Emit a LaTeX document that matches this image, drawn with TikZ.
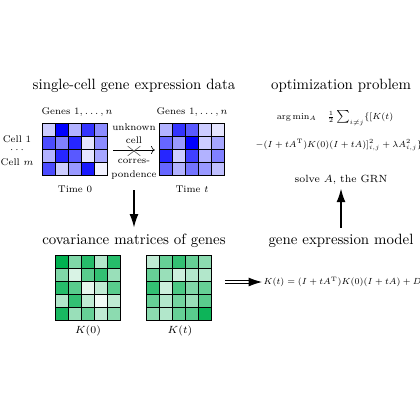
\documentclass[tikz,border=0pt]{standalone}
\usetikzlibrary{arrows.meta,shapes.misc,positioning,calc}

\definecolor{covgreen}{RGB}{0,176,80}

\tikzset{
  heading/.style={font=\normalsize},
  tinylabel/.style={font=\scriptsize, scale=0.93, inner sep=1pt},
  formula/.style={font=\scriptsize, scale=0.85, inner sep=1pt},
  exprbox/.style={inner sep=0pt, minimum width=1.534cm, minimum height=1.227cm},
  covbox/.style={inner sep=0pt, minimum size=1.534cm},
  cellframe/.style={draw=black, line width=0.9pt},
  bigarrow/.style={line width=0.8pt, -{Latex[length=9pt,width=6pt]}},
}

\begin{document}
\begin{tikzpicture}[x=0.0236cm, y=-0.0236cm]
        % Define dimensions
        \def\cs{13}
        \useasboundingbox (0,0) rectangle (420,420);

        % Headings
        \node[heading] (dataTitle) at (134,86) {single-cell gene expression data};
        \node[heading] (optTitle) at (341,86) {optimization problem};
        \node[heading] (covTitle) at (134,241) {covariance matrices of genes};
        \node[heading] (modelTitle) at (341,241) {gene expression model};

        % Draw expression matrices
        \node[exprbox] (expr0) at (75.5,150) {};
        \node[exprbox] (exprT) at (192.5,150) {};
        \foreach \r/\vals in {0/{20,100,30,80,45}, 1/{70,50,85,10,45}, 2/{30,85,65,10,35}, 3/{70,20,40,90,5}}
            \foreach \v [count=\c from 0] in \vals
                \filldraw[cellframe, fill=blue!\v] ($(expr0.north west)+(\c*\cs,\r*\cs)$) rectangle ++(\cs,\cs);
        \foreach \r/\vals in {0/{30,80,65,20,10}, 1/{60,40,100,20,35}, 2/{85,20,75,30,50}, 3/{60,30,55,40,25}}
            \foreach \v [count=\c from 0] in \vals
                \filldraw[cellframe, fill=blue!\v] ($(exprT.north west)+(\c*\cs,\r*\cs)$) rectangle ++(\cs,\cs);

        % Label expression matrices
        \node[tinylabel] (genes0) at (77,112) {Genes $1,\ldots,n$};
        \node[tinylabel] (genesT) at (192,112) {Genes $1,\ldots,n$};
        \node[tinylabel] (cellOne) at (17,139) {Cell 1};
        \node[tinylabel] (cellDots) at (17,150) {$\cdots$};
        \node[tinylabel] (cellM) at (17,162) {Cell $m$};
        \node[tinylabel] (time0) at (75,189) {Time 0};
        \node[tinylabel] (timeT) at (192,189) {Time $t$};
        \node[tinylabel, align=center] (unknown) at (134,133.5) {unknown\\[1.8pt]cell};
        \node[tinylabel, align=center] (corres) at (134,169) {corres-\\[1.8pt]pondence};

        % Draw unknown correspondence
        \draw[->, shorten <=3.3pt, shorten >=3.3pt] (expr0.east) -- (exprT.west);
        \node[cross out, draw=gray!70!black, thin, minimum width=8pt, minimum height=6pt, inner sep=0pt] (noMatch) at (134,151) {};

        % Draw covariance matrices
        \node[covbox] (cov0) at (88.5,288.5) {};
        \node[covbox] (covT) at (179.5,288.5) {};
        \foreach \r/\vals in {0/{100,50,85,30,85}, 1/{50,15,65,80,40}, 2/{85,65,10,25,65}, 3/{30,80,25,5,25}, 4/{90,40,60,25,45}}
            \foreach \v [count=\c from 0] in \vals
                \filldraw[cellframe, fill=covgreen!\v] ($(cov0.north west)+(\c*\cs,\r*\cs)$) rectangle ++(\cs,\cs);
        \foreach \r/\vals in {0/{25,60,80,60,45}, 1/{60,40,20,30,30}, 2/{80,20,70,50,60}, 3/{60,30,55,40,65}, 4/{45,30,60,65,95}}
            \foreach \v [count=\c from 0] in \vals
                \filldraw[cellframe, fill=covgreen!\v] ($(covT.north west)+(\c*\cs,\r*\cs)$) rectangle ++(\cs,\cs);
        \node[font=\scriptsize] (k0) at (88,331) {$K(0)$};
        \node[font=\scriptsize] (kT) at (180,331) {$K(t)$};

        % Optimization and model
        \node[formula] (optLine1) at (335,118) {$\arg\min_A\quad \frac{1}{2}\sum_{i\neq j}\{[K(t)$};
        \node[formula] (optLine2) at (339,145) {$-(I+tA^{\mathrm{T}})K(0)(I+tA)]_{i,j}^2+\lambda A_{i,j}^2\}$};
        \node[font=\scriptsize, inner sep=1pt] (solve) at (341,180) {solve $A$, the GRN};
        \node[formula, anchor=west] (modelEq) at (262,282) {$K(t)=(I+tA^{\mathrm{T}})K(0)(I+tA)+D$};

        % Draw flow arrows
        \coordinate (dataBottom) at (134,190);
        \draw[bigarrow, shorten >=1pt] (dataBottom) -- (covTitle.north);
        \draw[bigarrow, shorten <=1pt, shorten >=1.5pt] (modelTitle.north) -- (solve.south);
        \draw[double, double distance=1.3pt, line width=0.6pt, -{Latex[length=9pt,width=6pt]}, shorten <=8.7pt] (covT.east |- modelEq.west) -- (modelEq.west);
      \end{tikzpicture}
\end{document}
